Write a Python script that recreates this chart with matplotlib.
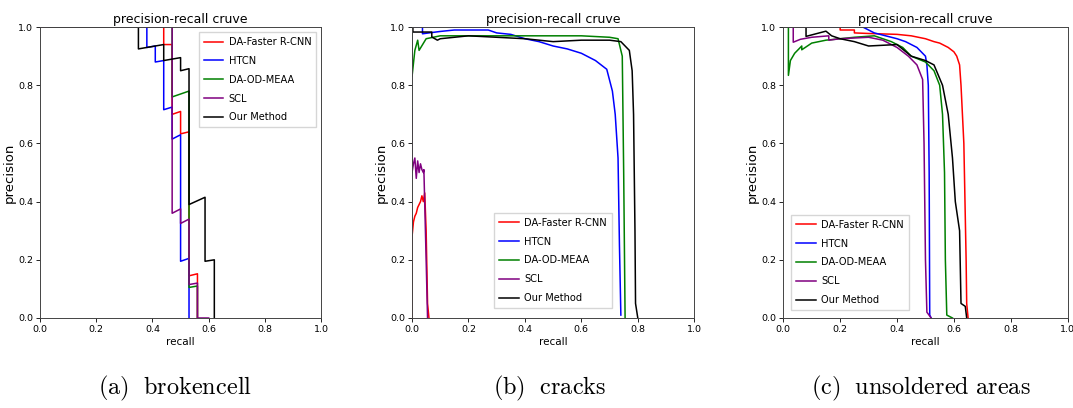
import matplotlib
matplotlib.use('Agg')
import matplotlib.pyplot as plt

plt.rcParams['mathtext.fontset'] = 'cm'

methods = ['DA-Faster R-CNN', 'HTCN', 'DA-OD-MEAA', 'SCL', 'Our Method']
colors = ['red', 'blue', 'green', 'purple', 'black']
captions = ['(a)', 'brokencell'], ['(b)', 'cracks'], ['(c)', 'unsoldered areas']

# ---- (a) brokencell : recall / precision per method
bc_red_r = [0.0, 0.44, 0.44, 0.47, 0.47, 0.50, 0.50, 0.53, 0.53, 0.56, 0.56]
bc_red_p = [1.0, 1.0, 0.94, 0.94, 0.70, 0.71, 0.633, 0.64, 0.145, 0.152, 0.0]
bc_blue_r = [0.0, 0.38, 0.38, 0.41, 0.41, 0.44, 0.44, 0.47, 0.47, 0.50, 0.50, 0.53, 0.53]
bc_blue_p = [1.0, 1.0, 0.93, 0.935, 0.88, 0.885, 0.716, 0.725, 0.615, 0.63, 0.195, 0.205, 0.0]
bc_green_r = [0.0, 0.47, 0.47, 0.53, 0.53, 0.56, 0.56]
bc_green_p = [1.0, 1.0, 0.76, 0.78, 0.105, 0.11, 0.0]
bc_purple_r = [0.0, 0.47, 0.47, 0.50, 0.50, 0.53, 0.53, 0.56, 0.56, 0.60]
bc_purple_p = [1.0, 1.0, 0.36, 0.375, 0.325, 0.34, 0.115, 0.12, 0.0, 0.0]
bc_black_r = [0.03, 0.35, 0.35, 0.44, 0.44, 0.50, 0.50, 0.53, 0.53, 0.587, 0.587, 0.62, 0.62]
bc_black_p = [1.0, 1.0, 0.925, 0.94, 0.885, 0.895, 0.85, 0.857, 0.39, 0.415, 0.195, 0.20, 0.0]

# ---- (b) cracks
cr_red_r = [0.0, 0.0, 0.005, 0.01, 0.015, 0.02, 0.025, 0.03, 0.035, 0.04, 0.045, 0.05, 0.055, 0.06]
cr_red_p = [0.0, 0.28, 0.33, 0.35, 0.36, 0.38, 0.39, 0.40, 0.42, 0.40, 0.43, 0.30, 0.05, 0.0]
cr_blue_r = [0.0, 0.037, 0.037, 0.06, 0.1, 0.15, 0.2, 0.27, 0.3, 0.35, 0.4, 0.45, 0.5, 0.55, 0.6,
             0.65, 0.69, 0.71, 0.72, 0.73, 0.735, 0.74]
cr_blue_p = [1.0, 1.0, 0.977, 0.98, 0.985, 0.99, 0.99, 0.99, 0.98, 0.975, 0.96, 0.95, 0.935, 0.925,
             0.91, 0.885, 0.855, 0.78, 0.70, 0.55, 0.25, 0.01]
cr_green_r = [0.0, 0.0, 0.01, 0.02, 0.025, 0.05, 0.1, 0.2, 0.3, 0.4, 0.5, 0.6, 0.7, 0.73,
              0.745, 0.75, 0.755]
cr_green_p = [1.0, 0.83, 0.92, 0.955, 0.92, 0.96, 0.97, 0.97, 0.97, 0.97, 0.97, 0.97, 0.965, 0.96,
              0.90, 0.50, 0.0]
cr_purple_r = [0.0, 0.0, 0.005, 0.01, 0.015, 0.02, 0.025, 0.03, 0.035, 0.04, 0.042, 0.05, 0.055]
cr_purple_p = [0.72, 0.50, 0.53, 0.55, 0.48, 0.54, 0.50, 0.53, 0.51, 0.50, 0.51, 0.20, 0.0]
cr_black_r = [0.003, 0.003, 0.045, 0.07, 0.07, 0.09, 0.1, 0.15, 0.2, 0.3, 0.4, 0.45, 0.5, 0.6,
              0.7, 0.74, 0.77, 0.78, 0.785, 0.79, 0.792, 0.80]
cr_black_p = [1.0, 0.983, 0.983, 0.983, 0.966, 0.955, 0.96, 0.965, 0.97, 0.965, 0.96, 0.955, 0.95,
              0.955, 0.955, 0.95, 0.92, 0.85, 0.70, 0.30, 0.05, 0.0]

# ---- (c) unsoldered areas
us_red_r = [0.0, 0.2, 0.2, 0.25, 0.25, 0.3, 0.4, 0.45, 0.5, 0.53, 0.55, 0.58, 0.6, 0.61, 0.62,
            0.625, 0.63, 0.635, 0.64, 0.643, 0.645, 0.65]
us_red_p = [1.0, 1.0, 0.99, 0.99, 0.98, 0.978, 0.975, 0.97, 0.96, 0.95, 0.945, 0.93, 0.915, 0.90,
            0.87, 0.80, 0.70, 0.60, 0.35, 0.20, 0.05, 0.0]
us_blue_r = [0.0, 0.28, 0.32, 0.36, 0.4, 0.43, 0.47, 0.5, 0.505, 0.51, 0.513, 0.515, 0.52]
us_blue_p = [1.0, 1.0, 0.98, 0.97, 0.96, 0.95, 0.93, 0.90, 0.87, 0.80, 0.50, 0.01, 0.0]
us_green_r = [0.018, 0.018, 0.025, 0.04, 0.065, 0.065, 0.1, 0.15, 0.25, 0.32, 0.38, 0.42, 0.45,
              0.5, 0.53, 0.55, 0.56, 0.567, 0.57, 0.575, 0.595]
us_green_p = [1.0, 0.834, 0.885, 0.91, 0.935, 0.922, 0.945, 0.955, 0.965, 0.97, 0.95, 0.93, 0.90,
              0.88, 0.85, 0.80, 0.70, 0.50, 0.20, 0.01, 0.0]
us_purple_r = [0.035, 0.035, 0.06, 0.1, 0.16, 0.16, 0.2, 0.3, 0.35, 0.4, 0.44, 0.47, 0.49, 0.495,
               0.5, 0.505, 0.52]
us_purple_p = [1.0, 0.948, 0.958, 0.965, 0.97, 0.955, 0.96, 0.965, 0.955, 0.93, 0.90, 0.87, 0.82,
               0.60, 0.20, 0.02, 0.0]
us_black_r = [0.0, 0.08, 0.08, 0.15, 0.17, 0.2, 0.25, 0.3, 0.4, 0.45, 0.5, 0.53, 0.56, 0.58,
              0.595, 0.605, 0.62, 0.625, 0.64, 0.645]
us_black_p = [1.0, 1.0, 0.968, 0.986, 0.97, 0.96, 0.95, 0.935, 0.94, 0.90, 0.885, 0.87, 0.80, 0.70,
              0.55, 0.40, 0.30, 0.05, 0.04, 0.0]

panels = [
    [(bc_red_r, bc_red_p), (bc_blue_r, bc_blue_p), (bc_green_r, bc_green_p),
     (bc_purple_r, bc_purple_p), (bc_black_r, bc_black_p)],
    [(cr_red_r, cr_red_p), (cr_blue_r, cr_blue_p), (cr_green_r, cr_green_p),
     (cr_purple_r, cr_purple_p), (cr_black_r, cr_black_p)],
    [(us_red_r, us_red_p), (us_blue_r, us_blue_p), (us_green_r, us_green_p),
     (us_purple_r, us_purple_p), (us_black_r, us_black_p)],
]
legend_locs = ['upper right', 'lower center', 'lower left']
legend_pad = [0.5, 1.0, 0.8]
axes_left = [0.0373, 0.384, 0.730]
axes_width = [0.262, 0.263, 0.265]
caption_x = [0.163, 0.512, 0.858]

fig = plt.figure(figsize=(10.73, 4.08), dpi=100)
for k in range(3):
    ax = fig.add_axes([axes_left[k], 0.2206, axes_width[k], 0.713])
    for (r, p), name, c in zip(panels[k], methods, colors):
        ax.plot(r, p, color=c, lw=1.1, label=name)
    ax.set_xlim(0, 1)
    ax.set_ylim(0, 1)
    ax.set_xticks([0.0, 0.2, 0.4, 0.6, 0.8, 1.0])
    ax.set_yticks([0.0, 0.2, 0.4, 0.6, 0.8, 1.0])
    ax.tick_params(labelsize=6.8, length=3, width=0.6, pad=2)
    for s in ax.spines.values():
        s.set_linewidth(0.7)
        s.set_color('#444444')
    ax.set_title('precision-recall cruve', fontsize=9, pad=3)
    ax.set_xlabel('recall', fontsize=7.5, labelpad=2)
    ax.set_ylabel('precision', fontsize=9.5, labelpad=2)
    ax.legend(loc=legend_locs[k], fontsize=7.1, handlelength=2.0, labelspacing=0.9,
              borderpad=0.5, handletextpad=0.55, borderaxespad=legend_pad[k], fancybox=False)
    cap = r'$\mathrm{' + captions[k][0] + r'\ \ ' + captions[k][1].replace(' ', r'\ ') + '}$'
    fig.text(caption_x[k], 0.049, cap, ha='center', va='center', fontsize=17.5)

fig.savefig('out.png', dpi=100)
